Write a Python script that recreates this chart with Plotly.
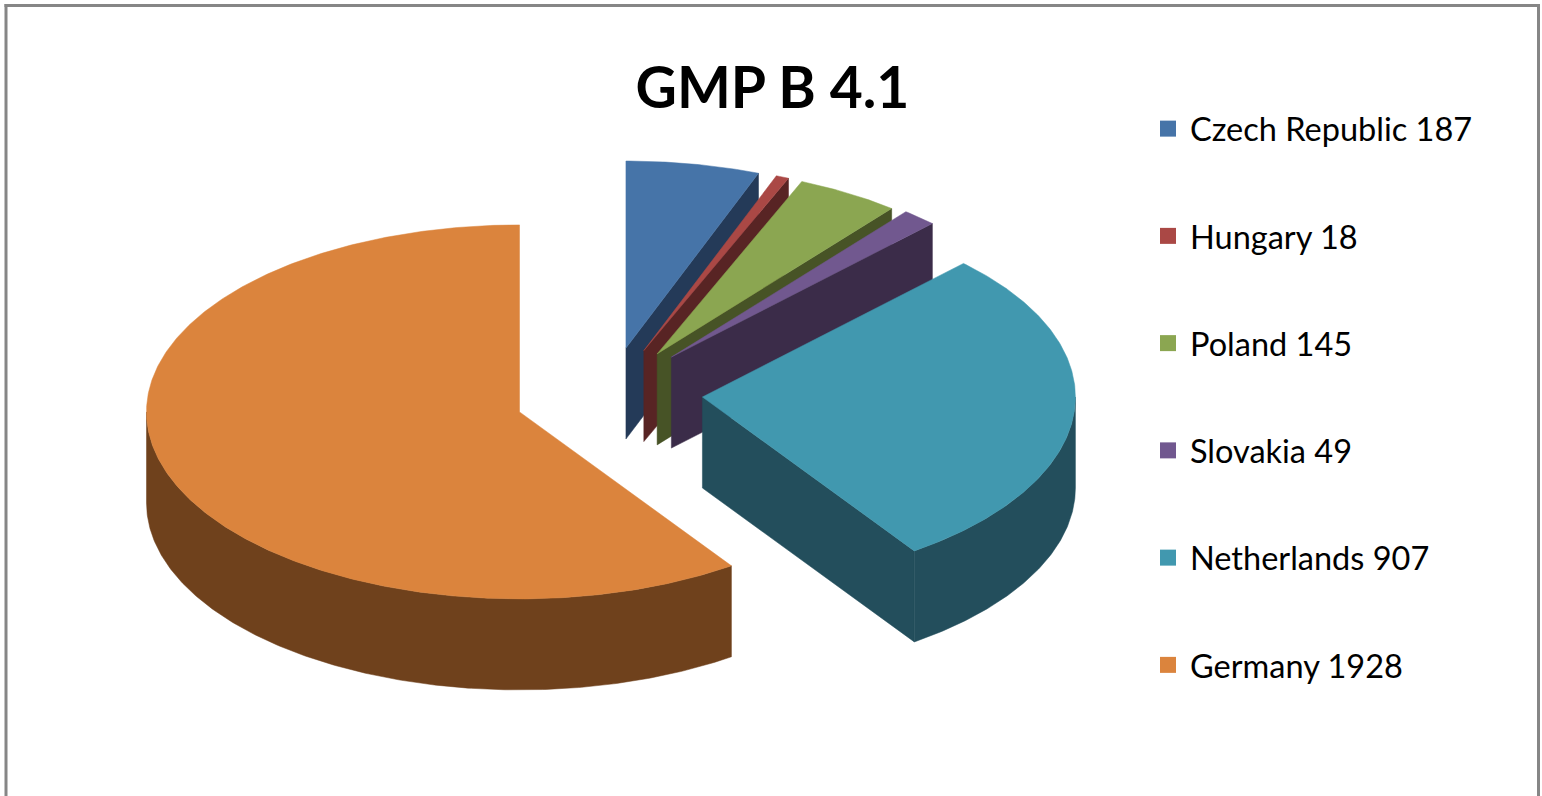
import math
import plotly.graph_objects as go

categories = ["Czech Republic", "Hungary", "Poland", "Slovakia", "Netherlands", "Germany"]
values = [187, 18, 145, 49, 907, 1928]
top_colors = ["#4674A8", "#AA4845", "#8BA651", "#71588F", "#4198AF", "#DB843D"]
wall_colors = ["#243A58", "#582424", "#475326", "#3B2C49", "#234E5C", "#6F411C"]
title_text = "GMP B 4.1"

# Projection of the 3D pie into the pixel-sized plotting frame
W, H = 1542, 796
CX, CY = 609, 394
RX, RY = 373, 187
DEPTH = 91
EXPLODE = 0.25
NUDGE_Y = [0, 0, 0, -2, -1, 4]  # small vertical corrections of the exploded slices
total = sum(values)


def pt(ox, oy, deg, dz=0):
    a = math.radians(deg)
    return ox + RX * math.sin(a), oy - RY * math.cos(a) + dz


def arc(ox, oy, a0, a1, dz=0):
    n = max(2, int(abs(a1 - a0) * 2))
    return [pt(ox, oy, a0 + (a1 - a0) * i / n, dz) for i in range(n + 1)]


def poly(fig, pts, color):
    xs = [p[0] for p in pts] + [pts[0][0]]
    ys = [p[1] for p in pts] + [pts[0][1]]
    fig.add_trace(go.Scatter(x=xs, y=ys, mode="lines", fill="toself", fillcolor=color,
                             line=dict(color=color, width=0.5), hoverinfo="skip", showlegend=False))


fig = go.Figure()
start = 0.0
for name, v, top, wall, nudge in zip(categories, values, top_colors, wall_colors, NUDGE_Y):
    end = start + v / total * 360
    mid = math.radians((start + end) / 2)
    ox = CX + EXPLODE * 375 * math.sin(mid)
    oy = CY - EXPLODE * RY * math.cos(mid) + nudge
    # visible cut face on the clockwise edge (upper-right slices and Netherlands)
    if end < 180:
        e = pt(ox, oy, end)
        poly(fig, [(ox, oy), e, (e[0], e[1] + DEPTH), (ox, oy + DEPTH)], wall)
    # visible outer rim: the part of the arc facing the viewer (90..270 deg)
    lo, hi = max(start, 90), min(end, 270)
    if hi > lo:
        upper = arc(ox, oy, lo, hi)
        lower = arc(ox, oy, hi, lo, DEPTH)
        poly(fig, upper + lower, wall)
    # top surface
    poly(fig, [(ox, oy)] + arc(ox, oy, start, end), top)
    start = end

for name, v, top in zip(categories, values, top_colors):
    fig.add_trace(go.Scatter(x=[None], y=[None], mode="markers", name=f"{name} {v}",
                             legendgroup=name,
                             marker=dict(symbol="square", size=19, color=top)))

frame = "#868686"
fig.add_shape(type="line", x0=6, x1=6, y0=4, y1=H, line=dict(color=frame, width=3))
fig.add_shape(type="line", x0=4.5, x1=1540, y0=5.5, y1=5.5, line=dict(color=frame, width=3))
fig.add_shape(type="line", x0=1538.5, x1=1538.5, y0=4, y1=H, line=dict(color=frame, width=3))

fig.update_layout(
    width=W, height=H, margin=dict(l=0, r=0, t=0, b=0),
    autosize=False,
    paper_bgcolor="white", plot_bgcolor="white",
    title=dict(text=f"<b>{title_text}</b>", x=772.5 / W, xanchor="center", y=1 - 88 / H, yanchor="middle",
               font=dict(family="Lato", size=57, color="black")),
    xaxis=dict(range=[0, W], visible=False, fixedrange=True),
    yaxis=dict(range=[H, 0], visible=False, fixedrange=True),
    legend=dict(x=1146 / W, y=1 - 101 / H, xanchor="left", yanchor="top", itemwidth=34,
                font=dict(family="Lato", size=32.5, color="black"),
                tracegroupgap=62, bgcolor="rgba(0,0,0,0)", itemclick=False, itemdoubleclick=False),
    showlegend=True,
)
fig.write_html("out.html", config=dict(displayModeBar=False),
               post_script="document.body.style.margin='0';document.body.style.overflow='hidden';")
